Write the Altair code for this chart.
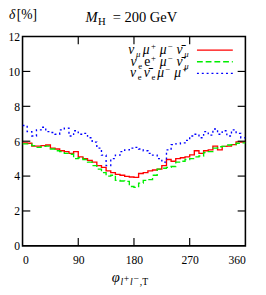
import altair as alt
import pandas as pd

# ---------------- data ----------------
bin_edges_deg = [i * 7.5 for i in range(48)]  # left edges of 7.5 degree bins

red_vals = [5.90, 5.88, 5.72, 5.72, 5.75, 5.78, 5.60, 5.55, 5.45, 5.40, 5.30, 5.40,
            5.10, 5.00, 4.90, 4.80, 4.60, 4.50, 4.30, 4.20, 4.10, 4.05, 3.98, 3.95,
            3.93, 4.15, 4.20, 4.30, 4.35, 4.40, 4.60, 4.95, 4.85, 5.00, 5.05, 5.10,
            5.22, 5.45, 5.30, 5.45, 5.50, 5.72, 5.50, 5.70, 5.72, 5.80, 5.96, 5.95]

green_vals = [5.85, 5.85, 5.75, 5.65, 5.70, 5.72, 5.55, 5.45, 5.40, 5.30, 5.25, 5.00,
              5.05, 4.95, 4.80, 4.60, 4.40, 4.20, 4.00, 4.05, 3.75, 3.72, 3.70, 3.40,
              3.35, 3.60, 3.75, 3.80, 4.05, 4.40, 4.45, 4.50, 4.55, 4.80, 4.85, 4.95,
              5.00, 5.10, 5.15, 5.35, 5.40, 5.60, 5.68, 5.70, 5.78, 5.80, 5.88, 5.90]

blue_vals = [6.90, 6.55, 6.30, 6.65, 6.80, 6.55, 6.50, 6.40, 6.65, 6.75, 6.30, 6.60,
             6.40, 6.45, 6.20, 5.95, 5.60, 5.20, 4.60, 5.00, 5.20, 5.40, 5.50, 5.60,
             5.65, 5.55, 5.45, 5.30, 5.20, 5.00, 4.80, 5.50, 5.80, 5.85, 5.90, 6.05,
             6.30, 6.40, 6.20, 6.55, 6.35, 6.70, 6.40, 6.60, 6.30, 6.65, 6.45, 6.20]

x_ticks = [0, 90, 180, 270, 360]
y_ticks = [0, 2, 4, 6, 8, 10, 12]
inner_x_ticks = [90, 180, 270]
inner_y_ticks = [2, 4, 6, 8, 10]

FONT = "Liberation Serif"
W, H = 230, 216
X_MAX = 360


def hist_frame(vals):
    rows = [{"phi": e, "delta": v} for e, v in zip(bin_edges_deg, vals)]
    rows.append({"phi": X_MAX, "delta": vals[-1]})
    return pd.DataFrame(rows)


xs = alt.Scale(domain=[0, 360], nice=False, zero=False)
ys = alt.Scale(domain=[0, 12], nice=False)

x_axis = alt.Axis(values=x_ticks, ticks=False, domain=False, grid=False, title=None,
                  labelFont=FONT, labelFontSize=12, labelPadding=9, labelColor="black")
y_axis = alt.Axis(values=y_ticks, ticks=False, domain=False, grid=False, title=None,
                  labelFont=FONT, labelFontSize=12, labelPadding=3, labelColor="black")


def hist_layer(vals, color, dash):
    props = dict(interpolate="step-after", color=color, strokeWidth=1.4, clip=True)
    if dash:
        props["strokeDash"] = dash
    return alt.Chart(hist_frame(vals)).mark_line(**props).encode(
        x=alt.X("phi:Q", scale=xs, axis=x_axis),
        y=alt.Y("delta:Q", scale=ys, axis=y_axis))


layers = [
    hist_layer(red_vals, "#ff0000", None),
    hist_layer(green_vals, "#00ee00", [6, 3]),
    hist_layer(blue_vals, "#0000ff", [2, 3]),
]

# inward ticks on all four sides
xt = pd.DataFrame({"phi": inner_x_ticks})
yt = pd.DataFrame({"delta": inner_y_ticks})
TL = 8
layers.append(alt.Chart(xt).mark_rule(color="black", strokeWidth=1.2).encode(
    x=alt.X("phi:Q", scale=xs, axis=x_axis), y=alt.value(H), y2=alt.value(H - TL)))
layers.append(alt.Chart(xt).mark_rule(color="black", strokeWidth=1.2).encode(
    x=alt.X("phi:Q", scale=xs, axis=x_axis), y=alt.value(0), y2=alt.value(TL)))
layers.append(alt.Chart(yt).mark_rule(color="black", strokeWidth=1.2).encode(
    y=alt.Y("delta:Q", scale=ys, axis=y_axis), x=alt.value(0), x2=alt.value(TL)))
layers.append(alt.Chart(yt).mark_rule(color="black", strokeWidth=1.2).encode(
    y=alt.Y("delta:Q", scale=ys, axis=y_axis), x=alt.value(W), x2=alt.value(W - TL)))

# ---------------- texts placed in page pixels ----------------
OX, OY = 23, 33  # page position of plot origin


def seg(text, px, py, size, italic):
    d = pd.DataFrame({"label": [text]})
    return alt.Chart(d).mark_text(
        font=FONT, fontSize=size, fontStyle="italic" if italic else "normal",
        align="left", baseline="alphabetic", color="black"
    ).encode(x=alt.value(px - OX), y=alt.value(py - OY), text="label:N")


title_main = "M"
title_sub = "H"
title_rest = "= 200 GeV"
ylabel_sym = "δ"
ylabel_unit = "[%]"
xlabel_sym = "φ"
xlabel_subs = [("l", True, 0), ("+", False, -3), ("l", True, 0), ("−", False, -3), (",T", False, 0)]

texts = [
    seg(ylabel_sym, 9, 15, 14, True),
    seg(ylabel_unit, 17, 15, 14, False),
    seg(title_main, 88, 18, 15, True),
    seg(title_sub, 101, 21, 11, False),
    seg(title_rest, 116, 18, 15, False),
    seg(xlabel_sym, 115, 286, 15, True),
]
sx = 124
for t, it, dy in xlabel_subs:
    texts.append(seg(t, sx, 289 + dy, 10, it))
    sx += {"l": 3.5, "+": 6.5, "−": 6.5, ",T": 9}[t]

# legend
legend_rows = [
    [("ν", 0, True), ("μ", 1, True), ("μ", 0, True), ("+", -1, False),
     ("μ", 0, True), ("−", -1, False), ("ν\u0304", 0, True), ("μ", 1, True)],
    [("ν", 0, True), ("e", 1, False), ("e", 0, False), ("+", -1, False),
     ("μ", 0, True), ("−", -1, False), ("ν\u0304", 0, True), ("μ", 1, True)],
    [("ν", 0, True), ("e", 1, False), ("ν\u0304", 0, True), ("e", 1, False),
     ("μ", 0, True), ("−", -1, False), ("μ", 0, True), ("+", -1, False)],
]
legend_colors = ["#ff0000", "#00ee00", "#0000ff"]
legend_dashes = [None, [6, 3], [2, 3]]
row_y = [47, 59, 71]
MAIN, SUB = 14, 9
char_w = {"ν": 8.0, "ν\u0304": 8.0, "μ": 8.5, "e": 7.0}
sub_w = {"μ": 7.0, "e": 6.0, "+": 9.0, "−": 9.0}

for r, row in enumerate(legend_rows):
    widths = [char_w[t] if kind == 0 else sub_w[t] for t, kind, it in row]
    x = 197 - sum(widths)
    for (t, kind, it), w in zip(row, widths):
        base = row_y[r] + 4 + (3 if kind == 1 else (-5 if kind == -1 else 0))
        texts.append(seg(t, x, base, MAIN if kind == 0 else SUB, it))
        x += w
    props = dict(color=legend_colors[r], strokeWidth=1.4)
    if legend_dashes[r]:
        props["strokeDash"] = legend_dashes[r]
    layers.append(alt.Chart(pd.DataFrame({"k": [0]})).mark_rule(**props).encode(
        x=alt.value(203 - OX), x2=alt.value(240 - OX),
        y=alt.value(row_y[r] - OY)))

chart = alt.layer(*layers, *texts).properties(
    width=W, height=H,
    autosize=alt.AutoSizeParams(type="none"),
    padding={"left": 15, "top": 25, "right": 13, "bottom": 38},
).configure(background="white").configure_view(stroke="black", strokeWidth=1.6)

chart.save("out.html", embed_options={"renderer": "svg", "actions": False})
